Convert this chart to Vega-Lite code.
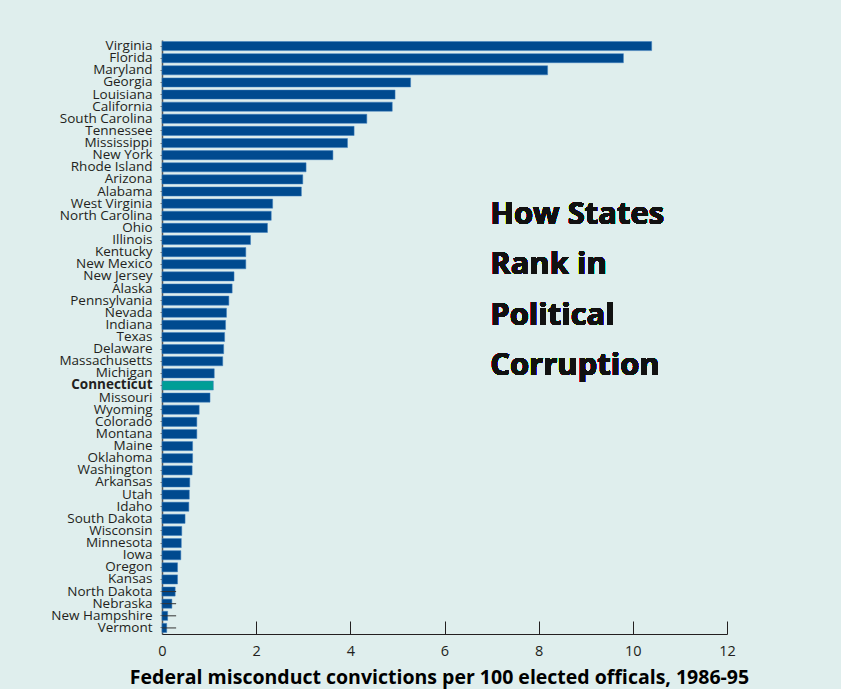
{
  "$schema": "https://vega.github.io/schema/vega-lite/v6.json",
  "autosize": "none",
  "width": 565,
  "height": 594,
  "padding": {"left": 162, "top": 40, "right": 114, "bottom": 55},
  "background": "#dfeeed",
  "config": {"view": {"stroke": null}, "font": "Open Sans"},
  "data": {
    "values": [
      {"state": "Virginia", "rate": 10.40},
      {"state": "Florida", "rate": 9.80},
      {"state": "Maryland", "rate": 8.19},
      {"state": "Georgia", "rate": 5.28},
      {"state": "Louisiana", "rate": 4.95},
      {"state": "California", "rate": 4.89},
      {"state": "South Carolina", "rate": 4.35},
      {"state": "Tennessee", "rate": 4.08},
      {"state": "Mississippi", "rate": 3.94},
      {"state": "New York", "rate": 3.63},
      {"state": "Rhode Island", "rate": 3.06},
      {"state": "Arizona", "rate": 2.99},
      {"state": "Alabama", "rate": 2.96},
      {"state": "West Virginia", "rate": 2.35},
      {"state": "North Carolina", "rate": 2.32},
      {"state": "Ohio", "rate": 2.24},
      {"state": "Illinois", "rate": 1.88},
      {"state": "Kentucky", "rate": 1.78},
      {"state": "New Mexico", "rate": 1.78},
      {"state": "New Jersey", "rate": 1.53},
      {"state": "Alaska", "rate": 1.49},
      {"state": "Pennsylvania", "rate": 1.42},
      {"state": "Nevada", "rate": 1.37},
      {"state": "Indiana", "rate": 1.35},
      {"state": "Texas", "rate": 1.33},
      {"state": "Delaware", "rate": 1.31},
      {"state": "Massachusetts", "rate": 1.29},
      {"state": "Michigan", "rate": 1.11},
      {"state": "Connecticut", "rate": 1.09, "highlight": true},
      {"state": "Missouri", "rate": 1.02},
      {"state": "Wyoming", "rate": 0.79},
      {"state": "Colorado", "rate": 0.74},
      {"state": "Montana", "rate": 0.74},
      {"state": "Maine", "rate": 0.65},
      {"state": "Oklahoma", "rate": 0.65},
      {"state": "Washington", "rate": 0.64},
      {"state": "Arkansas", "rate": 0.59},
      {"state": "Utah", "rate": 0.58},
      {"state": "Idaho", "rate": 0.57},
      {"state": "South Dakota", "rate": 0.49},
      {"state": "Wisconsin", "rate": 0.42},
      {"state": "Minnesota", "rate": 0.41},
      {"state": "Iowa", "rate": 0.40},
      {"state": "Oregon", "rate": 0.33},
      {"state": "Kansas", "rate": 0.33},
      {"state": "North Dakota", "rate": 0.28, "whisker": 0.30},
      {"state": "Nebraska", "rate": 0.21, "whisker": 0.30},
      {"state": "New Hampshire", "rate": 0.12, "whisker": 0.30},
      {"state": "Vermont", "rate": 0.10, "whisker": 0.30}
    ]
  },
  "layer": [
    {
      "mark": {"type": "bar", "stroke": "#3f7fbf", "strokeWidth": 0.5},
      "encoding": {
        "y": {
          "field": "state",
          "type": "nominal",
          "sort": null,
          "scale": {"paddingInner": 0.25, "paddingOuter": 0.125},
          "axis": {
            "title": null,
            "domainColor": "#555555",
            "domainWidth": 1.5,
            "tickColor": "#777777",
            "tickSize": 2,
            "labelFontSize": 13.5,
            "labelColor": "#231f20",
            "labelPadding": 8,
            "labelOverlap": false,
            "labelFontWeight": {"condition": {"test": "datum.value === 'Connecticut'", "value": "bold"}, "value": "normal"}
          }
        },
        "x": {
          "field": "rate",
          "type": "quantitative",
          "scale": {"domain": [0, 12], "nice": false},
          "axis": {
            "values": [0, 2, 4, 6, 8, 10, 12],
            "grid": false,
            "domainColor": "#231f20",
            "tickColor": "#231f20",
            "tickSize": -13,
            "labelFlush": false,
            "labelPadding": 23,
            "labelFontSize": 14.5,
            "labelColor": "#231f20",
            "title": "Federal misconduct convictions per 100 elected officals, 1986-95",
            "titleFontSize": 19.5,
            "titleFontWeight": "bold",
            "titleColor": "#000000",
            "titlePadding": 11,
            "titleX": 277
          }
        },
        "color": {
          "condition": {"test": "datum.highlight", "value": "#009e96"},
          "value": "#004a8f"
        }
      }
    },
    {
      "transform": [{"filter": "datum.whisker != null"}],
      "mark": {"type": "bar", "color": "#333333", "size": 1},
      "encoding": {
        "y": {"field": "state", "type": "nominal", "sort": null},
        "x": {"field": "whisker", "type": "quantitative"}
      }
    },
    {
      "mark": {
        "type": "text",
        "text": ["How States", "Rank in", "Political", "Corruption"],
        "align": "left",
        "baseline": "middle",
        "fontSize": 31,
        "fontWeight": "bold",
        "lineHeight": 50.5,
        "dy": -1,
        "color": "#111111"
      },
      "encoding": {
        "x": {"datum": 6.97, "type": "quantitative"},
        "y": {"datum": "North Carolina", "type": "nominal"}
      }
    }
  ]
}
